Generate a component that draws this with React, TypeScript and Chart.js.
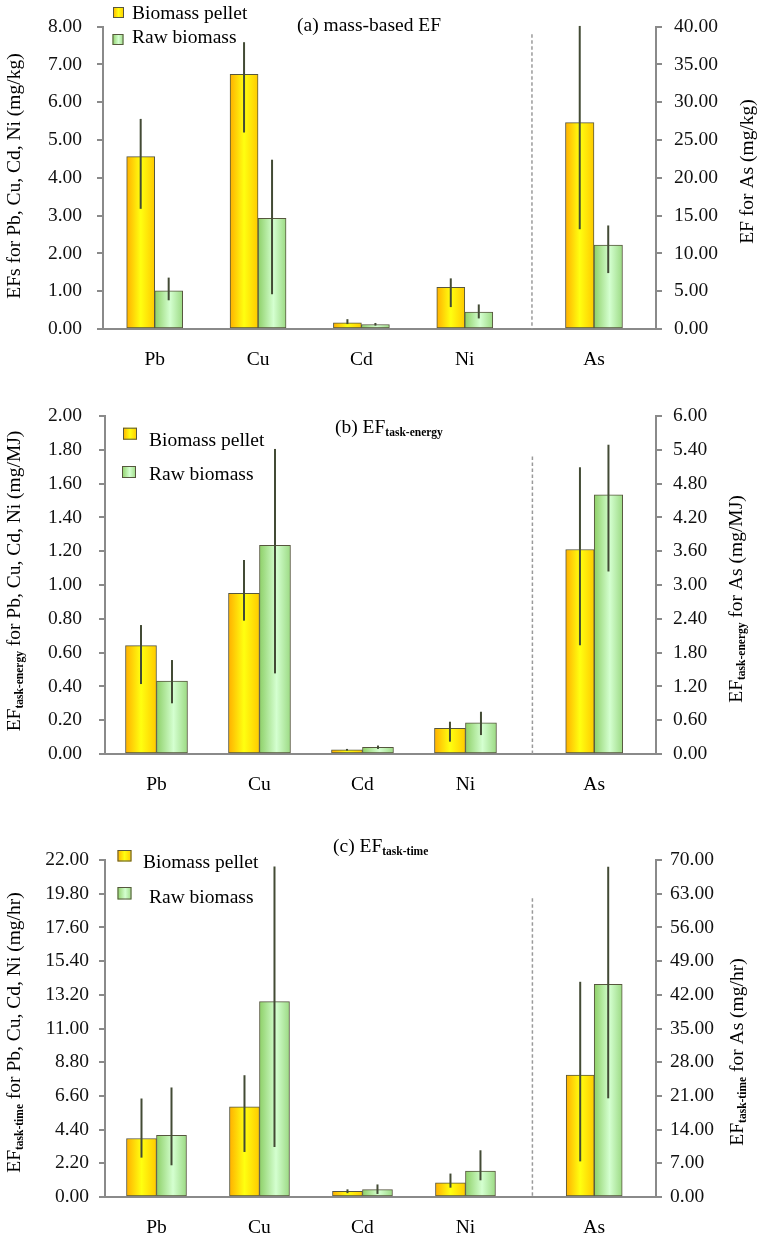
import React, { useEffect, useRef } from 'react';
import { Chart, registerables } from 'chart.js';

Chart.register(...registerables);

const FONT = '"Liberation Serif", "Times New Roman", serif';
const AXIS = '#8a8a8a';

// ---------- data ----------
const METALS = ['Pb', 'Cu', 'Cd', 'Ni'];
const AS_LABEL = 'As';
const SERIES = ['Biomass pellet', 'Raw biomass'];

// (a) mass-based EF (mg/kg)
const A_PELLET = [4.56, 6.74, 0.16, 1.1];
const A_PELLET_LOW = [3.18, 5.2, 0.13, 0.58];
const A_PELLET_HIGH = [5.56, 7.59, 0.26, 1.34];
const A_RAW = [1.01, 2.93, 0.12, 0.45];
const A_RAW_LOW = [0.76, 0.92, 0.09, 0.28];
const A_RAW_HIGH = [1.36, 4.48, 0.16, 0.65];
const A_AS = [27.3, 11.1];
const A_AS_LOW = [13.2, 7.4];
const A_AS_HIGH = [40.1, 13.7];
const A_LEFT_TICKS = [0, 1, 2, 3, 4, 5, 6, 7, 8];
const A_RIGHT_TICKS = [0, 5, 10, 15, 20, 25, 30, 35, 40];

// (b) EF task-energy (mg/MJ)
const B_PELLET = [0.641, 0.951, 0.024, 0.152];
const B_PELLET_LOW = [0.414, 0.789, 0.02, 0.073];
const B_PELLET_HIGH = [0.763, 1.148, 0.03, 0.191];
const B_RAW = [0.432, 1.235, 0.04, 0.185];
const B_RAW_LOW = [0.3, 0.477, 0.03, 0.112];
const B_RAW_HIGH = [0.556, 1.805, 0.05, 0.25];
const B_AS = [3.63, 4.6];
const B_AS_LOW = [1.93, 3.24];
const B_AS_HIGH = [5.09, 5.49];
const B_LEFT_TICKS = [0, 0.2, 0.4, 0.6, 0.8, 1.0, 1.2, 1.4, 1.6, 1.8, 2.0];
const B_RIGHT_TICKS = [0, 0.6, 1.2, 1.8, 2.4, 3.0, 3.6, 4.2, 4.8, 5.4, 6.0];

// (c) EF task-time (mg/hr)
const C_PELLET = [3.82, 5.88, 0.37, 0.92];
const C_PELLET_LOW = [2.57, 2.94, 0.25, 0.61];
const C_PELLET_HIGH = [6.43, 7.95, 0.5, 1.53];
const C_RAW = [4.03, 12.75, 0.48, 1.7];
const C_RAW_LOW = [2.07, 3.27, 0.2, 1.09];
const C_RAW_HIGH = [7.15, 21.57, 0.82, 3.05];
const C_AS = [25.3, 44.2];
const C_AS_LOW = [7.4, 20.5];
const C_AS_HIGH = [44.7, 68.6];
const C_LEFT_TICKS = [0, 2.2, 4.4, 6.6, 8.8, 11.0, 13.2, 15.4, 17.6, 19.8, 22.0];
const C_RIGHT_TICKS = [0, 7, 14, 21, 28, 35, 42, 49, 56, 63, 70];

// ---------- layout constants (x axis positions of the groups) ----------
const METAL_POS = [0, 1, 2, 3];
const AS_POS = 4.25;
const DIVIDER_POS = 3.65;
const X_MIN = -0.5;
const X_MAX = 4.85;

type Part = { t: string; sub?: boolean };
const MAIN_SIZE = 19.5;
const SUB_SIZE = 11.5;
const fontOf = (p: Part) => (p.sub ? `bold ${SUB_SIZE}px ${FONT}` : `${MAIN_SIZE}px ${FONT}`);

function drawRich(ctx: CanvasRenderingContext2D, parts: Part[], x: number, y: number, rot: number, align: 'center' | 'left') {
  ctx.save();
  ctx.translate(x, y);
  if (rot) ctx.rotate(rot);
  ctx.textBaseline = 'alphabetic';
  ctx.textAlign = 'left';
  ctx.fillStyle = '#000';
  let w = 0;
  for (const p of parts) {
    ctx.font = fontOf(p);
    w += ctx.measureText(p.t).width;
  }
  let cx = align === 'center' ? -w / 2 : 0;
  for (const p of parts) {
    ctx.font = fontOf(p);
    ctx.fillText(p.t, cx, p.sub ? 3 : 0);
    cx += ctx.measureText(p.t).width;
  }
  ctx.restore();
}

function makeGrad(ctx: CanvasRenderingContext2D, kind: 'p' | 'r', x0: number, x1: number) {
  const g = ctx.createLinearGradient(x0, 0, x1, 0);
  if (kind === 'p') {
    g.addColorStop(0, '#FFB000');
    g.addColorStop(0.5, '#FFFF10');
    g.addColorStop(1, '#FFCA00');
  } else {
    g.addColorStop(0, '#8ED068');
    g.addColorStop(0.55, '#D4FFD0');
    g.addColorStop(1, '#9CDA84');
  }
  return g;
}

type PanelDef = {
  top: number;
  height: number;
  chartTop: number;
  chartBottom: number;
  leftW: number;
  rightW: number;
  leftPad: number;
  rightPad: number;
  barW: number;
  asBarW: number;
  title: Part[];
  titleX: number;
  titleY: number;
  leftTitle: Part[];
  leftTitleX: number;
  leftTitleY: number;
  rightTitle: Part[];
  rightTitleX: number;
  rightTitleY: number;
  legend: { box: [number, number, number, number]; text: [number, number] }[];
  dashTop: number;
  pellet: number[];
  pelletLow: number[];
  pelletHigh: number[];
  raw: number[];
  rawLow: number[];
  rawHigh: number[];
  as: number[];
  asLow: number[];
  asHigh: number[];
  leftTicks: number[];
  rightTicks: number[];
};

const PANELS: PanelDef[] = [
  {
    top: 0, height: 380, chartTop: 24, chartBottom: 329, leftW: 103, rightW: 105, leftPad: 15, rightPad: 12,
    barW: 28, asBarW: 28.5,
    title: [{ t: '(a) mass-based EF' }], titleX: 297, titleY: 31,
    leftTitle: [{ t: 'EFs for Pb, Cu, Cd, Ni (mg/kg)' }], leftTitleX: 20, leftTitleY: 176,
    rightTitle: [{ t: 'EF for As (mg/kg)' }], rightTitleX: 752.5, rightTitleY: 171.5,
    legend: [
      { box: [113, 7, 11, 11], text: [132, 19] },
      { box: [112.5, 34, 11, 11], text: [132, 42.7] },
    ],
    dashTop: 7.8,
    pellet: A_PELLET, pelletLow: A_PELLET_LOW, pelletHigh: A_PELLET_HIGH,
    raw: A_RAW, rawLow: A_RAW_LOW, rawHigh: A_RAW_HIGH,
    as: A_AS, asLow: A_AS_LOW, asHigh: A_AS_HIGH,
    leftTicks: A_LEFT_TICKS, rightTicks: A_RIGHT_TICKS,
  },
  {
    top: 380, height: 420, chartTop: 36, chartBottom: 374, leftW: 105, rightW: 105, leftPad: 17, rightPad: 11,
    barW: 31, asBarW: 28.5,
    title: [{ t: '(b) EF' }, { t: 'task-energy', sub: true }], titleX: 335, titleY: 53,
    leftTitle: [{ t: 'EF' }, { t: 'task-energy', sub: true }, { t: ' for Pb, Cu, Cd, Ni (mg/MJ)' }], leftTitleX: 20, leftTitleY: 201,
    rightTitle: [{ t: 'EF' }, { t: 'task-energy', sub: true }, { t: ' for As (mg/MJ)' }], rightTitleX: 741.7, rightTitleY: 219,
    legend: [
      { box: [123, 47.7, 14, 12], text: [149, 65.7] },
      { box: [122, 86, 14, 12], text: [149, 100] },
    ],
    dashTop: 1.76,
    pellet: B_PELLET, pelletLow: B_PELLET_LOW, pelletHigh: B_PELLET_HIGH,
    raw: B_RAW, rawLow: B_RAW_LOW, rawHigh: B_RAW_HIGH,
    as: B_AS, asLow: B_AS_LOW, asHigh: B_AS_HIGH,
    leftTicks: B_LEFT_TICKS, rightTicks: B_RIGHT_TICKS,
  },
  {
    top: 800, height: 438, chartTop: 60, chartBottom: 397, leftW: 105, rightW: 105, leftPad: 10, rightPad: 8,
    barW: 30, asBarW: 28,
    title: [{ t: '(c) EF' }, { t: 'task-time', sub: true }], titleX: 333, titleY: 52,
    leftTitle: [{ t: 'EF' }, { t: 'task-time', sub: true }, { t: ' for Pb, Cu, Cd, Ni (mg/hr)' }], leftTitleX: 20, leftTitleY: 232.5,
    rightTitle: [{ t: 'EF' }, { t: 'task-time', sub: true }, { t: ' for As (mg/hr)' }], rightTitleX: 742.5, rightTitleY: 252,
    legend: [
      { box: [117.5, 50, 14, 11.5], text: [143, 68.3] },
      { box: [117.5, 87, 14, 12.5], text: [149, 102.7] },
    ],
    dashTop: 19.5,
    pellet: C_PELLET, pelletLow: C_PELLET_LOW, pelletHigh: C_PELLET_HIGH,
    raw: C_RAW, rawLow: C_RAW_LOW, rawHigh: C_RAW_HIGH,
    as: C_AS, asLow: C_AS_LOW, asHigh: C_AS_HIGH,
    leftTicks: C_LEFT_TICKS, rightTicks: C_RIGHT_TICKS,
  },
];

function barFill(kind: 'p' | 'r', t: number) {
  return (c: any) => {
    const fallback = kind === 'p' ? '#FFE000' : '#BDEFA8';
    const chart = c.chart;
    const xs = chart.scales && chart.scales.x;
    const raw = c.raw;
    if (!xs || !raw || typeof raw.x !== 'number') return fallback;
    const px = xs.getPixelForValue(raw.x);
    if (!isFinite(px)) return fallback;
    const left = kind === 'p' ? px - t : px;
    return makeGrad(chart.ctx, kind, left, left + t);
  };
}

function buildConfig(p: PanelDef): any {
  const mk = (label: string, vals: number[], lows: number[], highs: number[], xs: number[], axis: string, kind: 'p' | 'r', t: number) => ({
    label,
    data: vals.map((v, i) => ({ x: xs[i], y: v })),
    yAxisID: axis,
    barThickness: t,
    skipNull: true,
    errLow: lows,
    errHigh: highs,
    backgroundColor: barFill(kind, t),
    borderColor: '#56563e',
    borderWidth: 1,
    borderSkipped: false,
  });

  const datasets = [
    mk(SERIES[0], p.pellet, p.pelletLow, p.pelletHigh, METAL_POS, 'y', 'p', p.barW),
    mk(SERIES[1], p.raw, p.rawLow, p.rawHigh, METAL_POS, 'y', 'r', p.barW),
    mk(SERIES[0], [p.as[0]], [p.asLow[0]], [p.asHigh[0]], [AS_POS], 'y1', 'p', p.asBarW),
    mk(SERIES[1], [p.as[1]], [p.asLow[1]], [p.asHigh[1]], [AS_POS], 'y1', 'r', p.asBarW),
  ];

  const xLabels = [...METALS, AS_LABEL];
  const xTickPos = [...METAL_POS, AS_POS];

  const dividerPlugin = {
    id: 'divider',
    beforeDatasetsDraw(chart: any) {
      const ctx = chart.ctx as CanvasRenderingContext2D;
      const x = chart.scales.x.getPixelForValue(DIVIDER_POS);
      const y0 = chart.scales.y.getPixelForValue(p.dashTop);
      const y1 = chart.scales.y.getPixelForValue(0);
      ctx.save();
      ctx.strokeStyle = '#9a9a9a';
      ctx.lineWidth = 1.5;
      ctx.setLineDash([3.5, 2.5]);
      ctx.beginPath();
      ctx.moveTo(x, y0);
      ctx.lineTo(x, y1);
      ctx.stroke();
      ctx.restore();
    },
  };

  const errorPlugin = {
    id: 'errorbars',
    afterDatasetsDraw(chart: any) {
      const ctx = chart.ctx as CanvasRenderingContext2D;
      ctx.save();
      ctx.strokeStyle = '#434b35';
      ctx.lineWidth = 2;
      chart.data.datasets.forEach((ds: any, di: number) => {
        const meta = chart.getDatasetMeta(di);
        const ys = chart.scales[ds.yAxisID];
        meta.data.forEach((el: any, i: number) => {
          const a = ys.getPixelForValue(ds.errLow[i]);
          const b = ys.getPixelForValue(ds.errHigh[i]);
          ctx.beginPath();
          ctx.moveTo(el.x, a);
          ctx.lineTo(el.x, b);
          ctx.stroke();
        });
      });
      ctx.restore();
    },
  };

  const textPlugin = {
    id: 'texts',
    afterDraw(chart: any) {
      const ctx = chart.ctx as CanvasRenderingContext2D;
      drawRich(ctx, p.title, p.titleX, p.titleY, 0, 'left');
      drawRich(ctx, p.leftTitle, p.leftTitleX, p.leftTitleY, -Math.PI / 2, 'center');
      drawRich(ctx, p.rightTitle, p.rightTitleX, p.rightTitleY, -Math.PI / 2, 'center');
      p.legend.forEach((item, i) => {
        const [bx, by, bw, bh] = item.box;
        ctx.save();
        ctx.fillStyle = makeGrad(ctx, i === 0 ? 'p' : 'r', bx, bx + bw);
        ctx.fillRect(bx, by, bw, bh);
        ctx.strokeStyle = '#56563e';
        ctx.lineWidth = 1;
        ctx.strokeRect(bx + 0.5, by + 0.5, bw - 1, bh - 1);
        ctx.restore();
        drawRich(ctx, [{ t: SERIES[i] }], item.text[0], item.text[1], 0, 'left');
      });
    },
  };

  const tickFont = { family: FONT, size: MAIN_SIZE };

  return {
    type: 'bar',
    data: { datasets },
    plugins: [dividerPlugin, errorPlugin, textPlugin],
    options: {
      responsive: false,
      animation: false,
      devicePixelRatio: 1,
      layout: { padding: { top: p.chartTop, left: 0, right: 0, bottom: 0 } },
      plugins: {
        legend: { display: false },
        tooltip: { enabled: false },
        title: { display: false },
      },
      scales: {
        x: {
          type: 'linear',
          min: X_MIN,
          max: X_MAX,
          offset: false,
          afterBuildTicks: (s: any) => {
            s.ticks = xTickPos.map((v) => ({ value: v }));
          },
          afterFit: (s: any) => {
            s.height = p.height - p.chartBottom;
          },
          ticks: {
            autoSkip: false,
            maxRotation: 0,
            minRotation: 0,
            padding: 19,
            font: tickFont,
            color: '#000',
            callback: (_v: any, i: number) => xLabels[i],
          },
          grid: { display: false, drawTicks: false },
          border: { display: true, color: AXIS, width: 2 },
        },
        y: {
          type: 'linear',
          position: 'left',
          min: 0,
          max: p.leftTicks[p.leftTicks.length - 1],
          afterBuildTicks: (s: any) => {
            s.ticks = p.leftTicks.map((v) => ({ value: v }));
          },
          afterFit: (s: any) => {
            s.width = p.leftW;
          },
          ticks: {
            padding: p.leftPad,
            font: tickFont,
            color: '#111',
            callback: (v: any) => Number(v).toFixed(2),
          },
          grid: { drawOnChartArea: false, drawTicks: true, tickLength: 6, color: AXIS, lineWidth: 2 },
          border: { display: true, color: AXIS, width: 2 },
        },
        y1: {
          type: 'linear',
          position: 'right',
          min: 0,
          max: p.rightTicks[p.rightTicks.length - 1],
          afterBuildTicks: (s: any) => {
            s.ticks = p.rightTicks.map((v) => ({ value: v }));
          },
          afterFit: (s: any) => {
            s.width = p.rightW;
          },
          ticks: {
            padding: p.rightPad,
            font: tickFont,
            color: '#111',
            callback: (v: any) => Number(v).toFixed(2),
          },
          grid: { drawOnChartArea: false, drawTicks: true, tickLength: 6, color: AXIS, lineWidth: 2 },
          border: { display: true, color: AXIS, width: 2 },
        },
      },
    },
  };
}

function PanelChart({ p }: { p: PanelDef }) {
  const ref = useRef<HTMLCanvasElement | null>(null);
  useEffect(() => {
    if (!ref.current) return;
    const chart = new Chart(ref.current, buildConfig(p));
    return () => chart.destroy();
  }, [p]);
  return (
    <canvas
      ref={ref}
      width={761}
      height={p.height}
      style={{ position: 'absolute', left: 0, top: p.top, width: 761, height: p.height, display: 'block' }}
    />
  );
}

export default function App() {
  return (
    <div style={{ position: 'absolute', left: 0, top: 0, width: 761, height: 1238, background: '#fff' }}>
      {PANELS.map((p, i) => (
        <PanelChart key={i} p={p} />
      ))}
    </div>
  );
}
